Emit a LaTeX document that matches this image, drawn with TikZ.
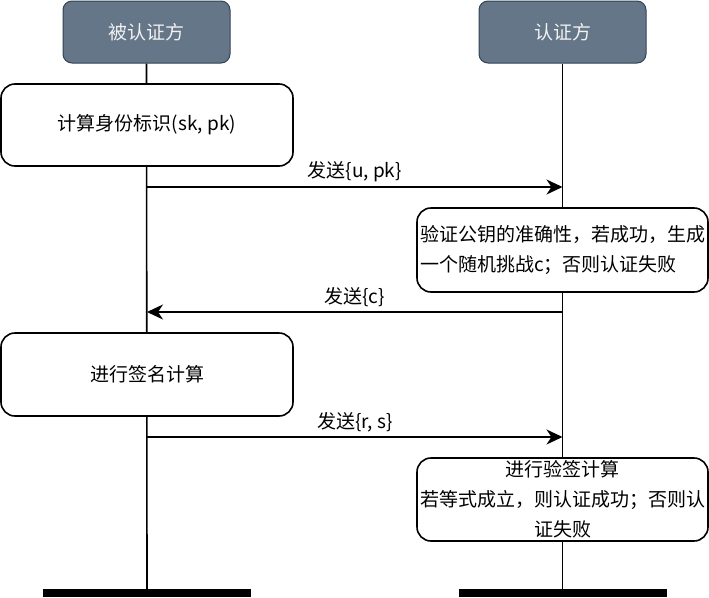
\documentclass[tikz,border=0pt]{standalone}
\usepackage{fontspec}
\newfontfamily\cjk{Noto Sans CJK SC}
\usetikzlibrary{arrows.meta}
\definecolor{headfill}{HTML}{647687}
\definecolor{headline}{HTML}{314354}
\definecolor{headtext}{HTML}{F2F2F2}
\begin{document}
\begin{tikzpicture}[x=1pt,y=-1pt,
  every node/.style={font=\cjk\fontsize{19}{30}\selectfont},
  head/.style={draw=headline, fill=headfill, rounded corners=9pt, minimum width=167pt, minimum height=62pt, text=headtext, line width=1pt, inner sep=0pt},
  proc/.style={draw, fill=white, rounded corners=14pt, line width=1.6pt, inner sep=1pt},
  life/.style={line width=1.6pt},
  msg/.style={line width=1.9pt, -{Stealth[length=16pt,width=15pt,inset=5pt]}},
  endbar/.style={fill=black, minimum width=208pt, minimum height=8pt, inner sep=0pt}
]
\useasboundingbox (0,0) rectangle (709,597);
\node[head] (hA) at (146.5,32) {被认证方};
\node[head] (hB) at (562.5,32) {认证方};
\node[endbar] (barA) at (147,593) {};
\node[endbar] (barB) at (562.5,593) {};
\draw[life] (hA.south) -- (barA.north);
\draw[life] (hB.south) -- (barB.north);

\node[proc, minimum width=292pt, minimum height=82pt] (c1) at (147,125) {计算身份标识(sk, pk)};
\node[proc, minimum width=291pt, minimum height=84pt, align=left] (c2) at (562.5,250) {验证公钥的准确性，若成功，生成\\一个随机挑战c；否则认证失败};
\node[proc, minimum width=292pt, minimum height=83pt] (c3) at (147,374.5) {进行签名计算};
\node[proc, minimum width=291pt, minimum height=83pt, align=center] (c4) at (562.5,499.5) {进行验签计算\\若等式成立，则认证成功；否则认\\证失败};

\coordinate (m1a) at (147,187);
\coordinate (m1b) at (562.5,187);
\coordinate (m2a) at (147,312);
\coordinate (m2b) at (562.5,312);
\coordinate (m3a) at (147,437);
\coordinate (m3b) at (562.5,437);
\draw[msg] (m1a) -- node[midway, above=1pt] {发送\{u, pk\}} (m1b);
\draw[msg] (m2b) -- node[midway, above=1pt] {发送\{c\}} (m2a);
\draw[msg] (m3a) -- node[midway, above=1pt] {发送\{r, s\}} (m3b);
\end{tikzpicture}
\end{document}
